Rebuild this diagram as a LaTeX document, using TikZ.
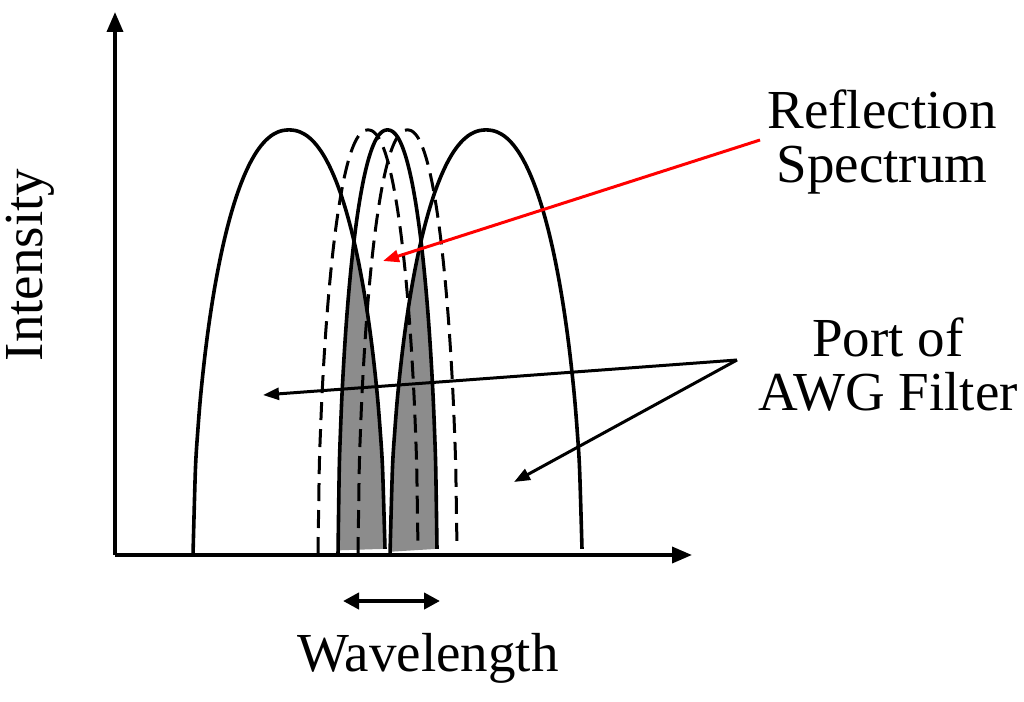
\documentclass[tikz,border=0pt]{standalone}
\usepackage{fontspec}
\setmainfont{Liberation Serif}
\usetikzlibrary{arrows.meta}
\begin{document}
\begin{tikzpicture}[x=1pt,y=-1pt,
  arch/.style={line width=3.6pt},
  dsh/.style={line width=3pt,dash pattern=on 18pt off 9pt},
  ax/.style={line width=3.6pt,-{Triangle[length=20pt,width=16pt]}},
  lbl/.style={font=\fontsize{55}{62}\selectfont,align=center},
  pt/.style={line width=3pt,-{Triangle[length=16pt,width=12pt]}}]
\useasboundingbox (0,0) rectangle (1024,701);
\def\archpath#1#2{plot[domain=-1:1,samples=80,smooth] ({#1+#2*\x},{555-425*(1-abs(\x)^2.2)^0.55})}
% gray fills
\begin{scope}
  \clip \archpath{289}{96} -- cycle;
  \fill[gray!90] \archpath{387.5}{49.5} -- cycle;
\end{scope}
\begin{scope}
  \clip \archpath{486}{96} -- cycle;
  \fill[gray!90] \archpath{387.5}{49.5} -- cycle;
\end{scope}
\draw[arch] \archpath{289}{96};
\draw[arch] \archpath{486}{96};
\draw[arch] \archpath{387.5}{49.5};
\draw[dsh] \archpath{368}{50};
\draw[dsh] \archpath{407.5}{49.5};
% axes
\coordinate (o) at (115,555);
\coordinate (ytop) at (115,12);
\coordinate (xend) at (692,555);
\draw[ax] (o) -- (ytop);
\draw[ax] (o) -- (xend);
% double arrow
\coordinate (wa) at (343,601);
\coordinate (wb) at (440,601);
\draw[line width=4pt,{Triangle[length=16pt,width=16pt]}-{Triangle[length=16pt,width=16pt]}] (wa) -- (wb);
\node[lbl] (wl) at (428,658) {Wavelength};
\node[lbl,rotate=90] (il) at (30,265) {Intensity};
\node[lbl] (rs) at (882,142) {Reflection\\[-8pt]Spectrum};
\node[lbl] (pa) at (888,365) {Port of\\[-8pt]AWG Filter};
\coordinate (rs0) at (760,140);
\coordinate (rs1) at (383,261);
\draw[pt,red] (rs0) -- (rs1);
\coordinate (p0) at (737,360);
\coordinate (p1) at (263,395);
\coordinate (p2) at (514,482);
\draw[pt] (p0) -- (p1);
\draw[pt] (p0) -- (p2);
\end{tikzpicture}
\end{document}
